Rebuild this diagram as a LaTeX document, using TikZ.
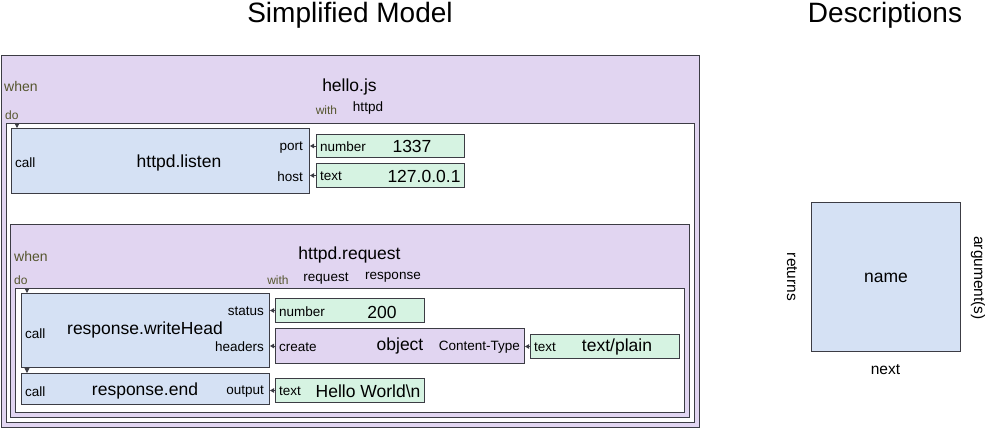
\documentclass[tikz,border=0pt]{standalone}
\usepackage{fontspec}
\setmainfont{Liberation Sans}
\usetikzlibrary{arrows.meta,positioning,calc}
\definecolor{lilac}{HTML}{E1D5F1}
\definecolor{paleblue}{HTML}{D5E1F4}
\definecolor{mint}{HTML}{D6F3E2}
\definecolor{edge}{HTML}{3C3C44}
\definecolor{olive}{HTML}{55552E}
\newcommand{\pxfont}[1]{\fontsize{#1}{#1}\selectfont}
\tikzset{box/.style={draw=edge,line width=1pt,anchor=north west,inner sep=0pt},
  eventbox/.style={box,fill=lilac},
  dobox/.style={box,fill=white},
  funcbox/.style={box,fill=paleblue},
  valbox/.style={box,fill=mint},
  txt/.style={inner sep=0pt,yshift=-1pt},
  heading/.style={txt,font=\pxfont{28}},
  bigtxt/.style={txt,font=\pxfont{17.5}},
  argtxt/.style={txt,font=\pxfont{13.5}},
  desctxt/.style={txt,font=\pxfont{15.5}},
  whentxt/.style={txt,text=olive,font=\pxfont{14}},
  kwtxt/.style={txt,text=olive,font=\pxfont{12}},
  argtip/.style={-{Triangle[length=4pt,width=4.5pt]},line width=0.8pt,draw=edge},
  nexttip/.style={-{Triangle[length=5pt,width=5pt]},line width=0.8pt,draw=edge}}

\begin{document}
\begin{tikzpicture}[x=1pt,y=-1pt]
\useasboundingbox (0,0) rectangle (985,428);
\node[heading] (simplified) at (350,14) {Simplified Model};
\node[heading] (descr) at (885,14) {Descriptions};
% hello.js
\node[eventbox,minimum width=698,minimum height=372] (hello) at (1,55) {};
\node[whentxt,anchor=west] (helloWhen) at (4,85) {when};
\node[bigtxt] (helloName) at (349.5,86) {hello.js};
\node[kwtxt,anchor=west] (helloDo) at (5,114) {do};
\node[kwtxt] (helloWith) at (326.5,109) {with};
\node[argtxt] (helloArg) at (368,107.5) {httpd};
\node[dobox,minimum width=688,minimum height=299] (helloBody) at (6,123) {};
% httpd.listen
\node[funcbox,minimum width=298,minimum height=65] (listen) at (11,128) {};
\node[argtxt,anchor=west] (listenCall) at ([xshift=4,yshift=-1]listen.west) {call};
\node[bigtxt] (listenName) at (179,162) {httpd.listen};
\node[valbox,minimum width=148,minimum height=23] (port) at (316,134) {};
\node[argtxt,anchor=west] (portType) at ([xshift=4]port.west) {number};
\node[bigtxt] (portVal) at (412,145) {1337};
\node[valbox,minimum width=148,minimum height=24] (host) at (316,163) {};
\node[argtxt,anchor=west] (hostType) at ([xshift=4]host.west) {text};
\node[bigtxt] (hostVal) at (424,175) {127.0.0.1};
\node[argtxt,anchor=east] (portLbl) at ($(listen.east |- port.west)+(-7,0.5)$) {port};
\node[argtxt,anchor=east] (hostLbl) at ($(listen.east |- host.west)+(-7,0)$) {host};
\draw[argtip] (port.west) -- (listen.east |- port.west);
\draw[argtip] (host.west) -- (listen.east |- host.west);
\coordinate (listenNext) at ([xshift=6]listen.north west);
\draw[nexttip] (listenNext |- helloBody.north) -- (listenNext);
% httpd.request
\node[eventbox,minimum width=679,minimum height=193] (request) at (10,224) {};
\node[whentxt,anchor=west] (requestWhen) at (14,255) {when};
\node[bigtxt] (requestName) at (349.5,254) {httpd.request};
\node[kwtxt,anchor=west] (requestDo) at (14,279) {do};
\node[kwtxt] (requestWith) at (278,279) {with};
\node[argtxt] (requestArgA) at (326,277.5) {request};
\node[argtxt] (requestArgB) at (393,276.5) {response};
\node[dobox,minimum width=669,minimum height=124] (requestBody) at (15,288) {};
% response.writeHead
\node[funcbox,minimum width=248,minimum height=74] (writeHead) at (21,293) {};
\node[argtxt,anchor=west] (headCall) at ([xshift=4,yshift=-2]writeHead.west) {call};
\node[bigtxt] (headName) at (145,329) {response.writeHead};
\node[valbox,minimum width=149,minimum height=24] (status) at (275,298) {};
\node[argtxt,anchor=west] (statusType) at ([xshift=4]status.west) {number};
\node[bigtxt] (statusVal) at (382,311) {200};
\node[eventbox,minimum width=249,minimum height=35] (headers) at (275,328) {};
\node[argtxt,anchor=west] (headersCreate) at ([xshift=4]headers.west) {create};
\node[bigtxt] (headersName) at (400,345) {object};
\node[argtxt,anchor=east] (ctypeLbl) at ([xshift=-5]headers.east) {Content-Type};
\node[valbox,minimum width=149,minimum height=24] (ctype) at (530,334) {};
\node[argtxt,anchor=west] (ctypeType) at ([xshift=4]ctype.west) {text};
\node[bigtxt] (ctypeVal) at (617,345.5) {text/plain};
\node[argtxt,anchor=east] (statusLbl) at ($(writeHead.east |- status.west)+(-6,0)$) {status};
\node[argtxt,anchor=east] (headersLbl) at ($(writeHead.east |- headers.west)+(-6,0)$) {headers};
\draw[argtip] (status.west) -- (writeHead.east |- status.west);
\draw[argtip] (headers.west) -- (writeHead.east |- headers.west);
\draw[argtip] (ctype.west) -- (headers.east |- ctype.west);
\coordinate (headNext) at ([xshift=6]writeHead.north west);
\draw[nexttip] (headNext |- requestBody.north) -- (headNext);
% response.end
\node[funcbox,minimum width=248,minimum height=31] (respEnd) at (21,373) {};
\node[argtxt,anchor=west] (endCall) at ([xshift=4,yshift=-2]respEnd.west) {call};
\node[bigtxt] (endName) at (145,390) {response.end};
\node[valbox,minimum width=149,minimum height=24] (output) at (275,378) {};
\node[argtxt,anchor=west] (outputType) at ([xshift=4]output.west) {text};
\node[bigtxt] (outputVal) at (368,390) {Hello World\textbackslash n};
\node[argtxt,anchor=east] (outputLbl) at ($(respEnd.east |- output.west)+(-6,0.5)$) {output};
\draw[argtip] (output.west) -- (respEnd.east |- output.west);
\coordinate (endNext) at ([xshift=6]respEnd.north west);
\draw[nexttip] (endNext |- writeHead.south) -- (endNext);
% description
\node[funcbox,minimum width=149,minimum height=149] (sample) at (811,202) {};
\node[bigtxt] (sampleName) at (sample.center) {name};
\node[desctxt,rotate=-90] (sampleReturns) at (792,276) {returns};
\node[desctxt,rotate=-90] (sampleArgs) at (978,277) {argument(s)};
\node[desctxt] (sampleNext) at (885.5,368.5) {next};
\end{tikzpicture}
\end{document}
